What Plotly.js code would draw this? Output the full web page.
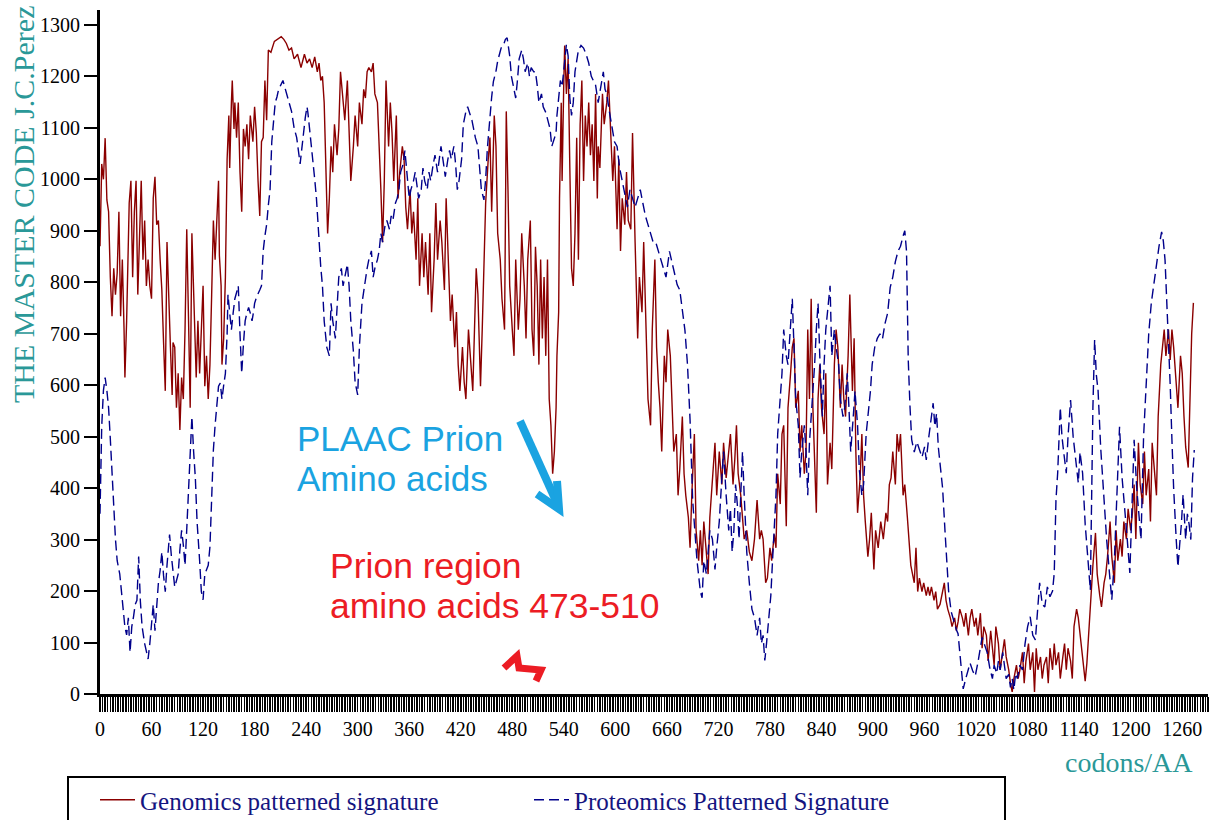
<!DOCTYPE html>
<html>
<head>
<meta charset="utf-8">
<script src="https://cdn.plot.ly/plotly-3.0.1.min.js"></script>
<style>html,body{margin:0;padding:0;background:#fff;}#chart{width:1210px;height:820px;}</style>
</head>
<body>
<div id="chart"></div>
<script>
// ---------- DATA ----------
const genomicsCodons = [0,2,4,6,8,10,12,14,16,18,20,22,24,26,28,29,31,34,36,38,40,42,44,46,48,50,52,54,56,58,60,62,64,66,68,70,72,74,76,78,80,82,84,85,87,89,91,93,95,97,99,101,103,105,107,109,111,112,114,116,118,120,122,124,126,128,130,132,134,136,138,139,141,142,144,146,148,150,151,153,154,156,157,159,161,163,165,167,169,171,173,175,178,180,182,184,186,188,190,192,194,196,199,203,207,211,214,217,220,223,226,230,234,238,241,244,247,250,253,255,257,259,261,263,265,267,269,271,273,276,278,280,283,285,288,290,292,295,297,300,302,305,307,309,311,313,316,318,320,323,325,327,329,331,333,336,338,340,342,345,347,349,352,354,356,358,361,363,365,368,370,372,375,377,379,382,384,386,389,391,393,396,398,401,403,405,408,410,413,415,417,419,422,424,426,429,431,434,436,438,440,443,445,447,449,452,454,456,459,461,463,466,468,471,473,475,477,480,482,484,487,489,491,494,496,498,501,503,505,507,509,511,513,515,517,519,521,523,525,527,529,531,532,534,535,537,538,540,541,543,545,547,549,551,553,555,557,559,561,563,565,567,569,571,573,575,577,579,580,582,585,587,590,592,594,597,599,602,604,606,608,611,613,615,618,620,623,626,628,631,633,636,638,641,643,646,648,650,652,654,657,659,661,664,666,668,671,673,675,678,680,682,685,687,689,692,694,697,699,701,703,706,708,710,713,716,718,721,724,726,729,732,734,737,739,741,743,746,748,750,753,756,759,762,765,768,770,772,775,777,780,782,785,787,789,792,794,796,799,801,804,806,808,810,813,815,817,820,822,824,826,828,830,832,834,836,838,840,843,845,847,850,852,855,857,859,862,864,866,868,871,873,876,878,880,882,885,887,889,891,894,896,898,901,903,906,909,912,915,917,919,921,923,926,928,930,932,935,937,940,942,944,946,948,950,952,954,957,959,962,964,966,968,971,973,975,978,980,983,985,987,990,992,995,997,999,1001,1004,1006,1008,1011,1013,1015,1018,1020,1022,1025,1027,1029,1032,1034,1037,1039,1041,1043,1046,1048,1051,1053,1055,1058,1060,1062,1064,1067,1069,1071,1074,1076,1078,1081,1083,1086,1088,1090,1092,1095,1097,1099,1102,1104,1106,1109,1111,1113,1116,1118,1121,1123,1125,1127,1130,1132,1134,1137,1139,1141,1144,1147,1149,1151,1153,1156,1159,1161,1164,1166,1169,1171,1173,1176,1178,1181,1183,1185,1188,1190,1192,1195,1197,1200,1202,1204,1206,1209,1211,1214,1216,1218,1221,1223,1225,1228,1230,1232,1235,1237,1239,1241,1244,1246,1248,1250,1253,1255,1258,1260,1262,1264,1267,1269,1271,1273];
const genomicsValues = [870,1030,1000,1080,960,937,810,734,827,776,818,937,734,844,708,615,725,954,997,810,937,997,776,895,997,844,920,793,844,793,768,963,1005,912,920,844,785,683,589,878,759,674,581,683,674,556,623,513,615,573,708,903,734,556,895,793,683,615,725,623,708,793,598,657,573,640,776,920,844,937,997,852,793,640,691,810,1039,1124,1022,1149,1192,1098,1149,1081,1149,1014,937,1098,1064,1107,1039,1124,1073,1141,1090,997,929,1073,1081,1192,1115,1251,1247,1268,1272,1277,1272,1264,1251,1255,1234,1243,1217,1243,1226,1234,1217,1238,1209,1226,1192,1200,1149,997,895,963,1064,1014,1107,1047,1098,1209,1149,1115,1192,1081,997,1064,1124,1064,1149,1107,1175,1158,1209,1217,1209,1226,1166,1149,1073,980,878,997,1192,1064,1149,1090,997,1124,963,1014,1064,1039,946,903,980,895,937,844,963,793,895,810,878,776,895,742,844,954,844,920,878,785,963,852,725,776,674,742,640,589,674,606,573,708,657,589,708,827,776,598,708,844,954,1039,1081,937,1124,1064,895,844,768,708,1132,980,793,708,657,844,708,768,895,793,691,844,920,708,657,869,793,640,844,691,810,657,844,573,522,428,471,556,657,742,963,1149,997,1192,1260,1166,1234,1022,827,793,895,1081,844,1107,1192,997,1124,1064,1149,1047,1107,997,1166,963,1064,1022,1166,1107,1149,1192,1115,997,1064,903,1039,861,963,912,1014,920,903,1090,878,691,810,742,878,674,573,522,708,844,674,606,556,471,657,606,708,657,539,471,505,386,437,539,428,386,343,284,386,505,318,259,318,250,335,276,233,343,420,488,386,471,407,488,420,471,505,407,454,522,428,386,343,301,318,276,259,301,377,301,318,301,216,225,284,259,310,284,428,369,505,522,326,556,623,674,691,556,589,471,522,428,471,708,573,768,556,471,352,573,640,556,505,623,407,488,437,640,708,674,556,640,573,539,657,776,589,691,471,352,420,505,386,335,267,301,352,242,318,284,335,301,352,335,407,420,471,407,505,471,505,386,407,343,301,250,233,216,284,199,225,199,216,191,208,191,208,182,199,165,174,191,216,182,165,148,131,148,123,140,165,148,131,157,114,148,165,131,148,114,157,89,131,114,64,123,89,56,131,98,47,81,106,72,47,21,4,30,56,30,47,81,21,64,98,47,81,4,89,47,72,30,56,72,21,89,47,98,56,81,30,72,98,47,89,64,30,131,165,148,114,64,25,60,120,183,250,313,233,191,169,216,233,267,335,267,216,318,259,301,267,335,301,360,318,352,407,301,488,407,369,471,386,437,335,488,420,386,539,640,674,708,657,708,649,708,674,589,556,657,623,540,480,440,560,700,760];

const proteomicsCodons = [0,1,2,4,6,8,10,12,14,16,18,20,23,25,27,29,31,33,35,37,39,41,43,45,47,49,52,54,56,58,60,62,64,66,68,70,72,74,76,78,81,83,85,87,89,91,93,95,97,99,101,103,105,107,109,111,113,114,116,118,120,122,124,126,128,130,132,134,136,138,140,142,144,146,148,149,151,153,155,157,159,161,163,165,167,169,171,173,175,177,179,180,182,184,186,188,190,192,194,196,198,200,202,204,206,208,211,213,215,217,220,223,226,229,231,233,235,237,239,241,242,244,246,248,250,252,254,257,259,261,264,267,269,271,274,276,278,281,283,286,288,290,292,295,297,300,302,305,307,309,311,313,316,318,320,323,325,327,329,332,334,337,339,341,344,346,348,350,353,355,358,360,362,365,367,369,371,374,376,378,381,383,385,388,390,393,395,397,400,402,405,407,409,412,414,416,418,421,423,426,428,430,433,435,437,440,442,444,447,449,451,454,456,458,461,463,465,467,470,472,474,477,479,481,484,486,488,491,493,495,498,500,502,505,507,509,511,514,516,519,521,524,526,529,531,532,534,536,538,541,543,545,547,549,551,553,555,557,560,563,566,569,572,574,577,580,583,586,588,590,593,596,599,602,605,608,611,614,617,620,623,626,629,632,635,638,641,644,647,650,653,656,659,663,665,667,670,672,675,678,681,684,687,690,693,695,697,699,701,703,706,708,710,713,716,718,721,724,726,729,732,734,736,738,740,742,744,746,748,750,753,756,759,762,765,768,770,772,774,776,779,781,783,785,787,789,792,794,796,799,801,804,806,808,810,813,815,817,820,822,824,826,828,830,832,834,836,838,841,843,845,848,850,852,855,857,860,862,865,867,870,872,874,877,879,882,884,887,889,892,894,897,899,902,905,908,911,914,917,920,923,926,929,932,935,937,939,941,943,945,948,951,954,957,960,962,965,968,970,972,974,976,979,981,984,986,988,991,994,997,999,1002,1005,1008,1011,1013,1016,1019,1022,1025,1027,1030,1033,1036,1039,1041,1044,1046,1048,1051,1053,1055,1058,1060,1062,1064,1066,1068,1071,1074,1077,1080,1083,1086,1089,1091,1094,1097,1100,1103,1106,1109,1111,1113,1115,1118,1120,1122,1125,1127,1130,1133,1136,1139,1141,1144,1147,1150,1153,1156,1158,1160,1162,1165,1168,1170,1172,1175,1178,1181,1184,1187,1190,1193,1196,1199,1201,1204,1207,1210,1212,1215,1218,1221,1224,1227,1230,1233,1236,1238,1240,1242,1244,1246,1248,1250,1253,1255,1257,1259,1261,1264,1266,1268,1270,1272,1274];
const proteomicsValues = [350,450,520,590,615,590,556,496,428,369,301,259,233,199,165,130,115,148,81,131,150,174,182,267,180,131,98,85,68,98,130,174,123,170,216,240,276,230,199,250,310,270,233,208,220,233,280,318,290,250,320,386,470,539,471,420,335,301,259,199,183,233,240,250,286,386,474,522,570,598,604,573,600,623,700,776,740,708,740,768,780,793,700,623,680,725,740,751,740,725,745,759,770,776,785,793,861,890,912,950,980,1073,1110,1149,1160,1175,1185,1192,1180,1166,1150,1132,1100,1081,1050,1030,1060,1098,1120,1141,1130,1098,1060,1030,1000,963,900,830,793,725,674,657,759,725,691,742,810,827,793,818,835,793,725,666,606,581,674,759,785,810,827,844,861,810,827,844,861,895,878,912,920,903,929,920,954,963,980,1014,1030,1056,997,963,980,997,1014,989,963,980,1022,997,980,1014,997,1030,1047,1014,1039,1064,1030,1005,1039,1056,1039,1064,1030,980,997,1039,1107,1132,1141,1132,1115,1098,1081,1064,1020,980,960,1000,1060,1130,1160,1190,1210,1230,1245,1255,1262,1272,1275,1240,1200,1183,1158,1192,1234,1251,1234,1209,1226,1200,1217,1209,1209,1183,1149,1166,1141,1130,1115,1098,1064,1081,1090,1124,1166,1192,1180,1230,1262,1240,1158,1124,1149,1209,1234,1251,1260,1255,1243,1226,1200,1192,1183,1149,1183,1209,1175,1166,1132,1098,1073,1064,1022,997,971,946,980,963,946,963,980,954,929,912,895,878,878,861,844,827,810,860,845,830,810,795,785,745,707,640,532,377,300,260,230,199,187,259,233,284,318,301,242,284,335,420,471,386,318,360,276,318,407,369,301,386,471,386,276,216,165,148,114,148,98,114,65,98,148,191,259,318,386,505,589,623,708,657,640,708,768,674,573,522,420,471,522,471,386,488,539,573,640,708,759,657,539,640,708,759,793,657,708,674,640,573,539,556,623,556,471,539,589,522,437,386,407,505,539,589,640,674,691,700,690,720,740,790,810,840,860,870,890,900,860,650,560,494,470,490,475,460,480,455,500,540,565,520,545,480,430,400,311,253,200,160,140,125,117,60,10,30,50,60,45,35,60,90,110,95,80,50,30,56,40,64,47,81,56,30,38,13,30,8,40,30,56,47,98,131,150,114,105,150,216,174,169,208,189,200,235,377,430,557,500,470,429,500,571,500,450,410,470,429,330,260,202,557,688,620,590,480,400,332,300,240,183,260,380,519,420,350,300,235,330,494,400,340,300,500,600,700,760,800,840,870,898,880,843,766,688,600,494,400,300,247,290,330,388,300,350,330,300,420,474];

const yTickValues = [0,100,200,300,400,500,600,700,800,900,1000,1100,1200,1300];
const seriesNames = ['Genomics patterned signature', 'Proteomics Patterned Signature'];

// ---------- LAYOUT GEOMETRY ----------
const PL = 100, PR = 1208, PT = 10, PB = 694;
const px = v => (v - PL) / (PR - PL);
const py = v => (PB - v) / (PB - PT);
const pathOf = pts => pts.map((p, i) => (i ? 'L' : 'M') + px(p[0]).toFixed(5) + ',' + py(p[1]).toFixed(5)).join(' ');

const serif = 'Liberation Serif, Times New Roman, serif';
const sans = 'Liberation Sans, Arial, sans-serif';
const teal = '#2a9898';

const traces = [
  {
    type: 'scatter', mode: 'lines', name: seriesNames[0],
    x: genomicsCodons, y: genomicsValues,
    line: {color: '#8b0000', width: 1.4}
  },
  {
    type: 'scatter', mode: 'lines', name: seriesNames[1],
    x: proteomicsCodons, y: proteomicsValues,
    line: {color: '#00008b', width: 1.4, dash: '10px,5px'}
  }
];

const layout = {
  width: 1210, height: 820,
  margin: {l: PL, r: 1210 - PR, t: PT, b: 820 - PB, autoexpand: false},
  paper_bgcolor: '#ffffff', plot_bgcolor: '#ffffff',
  showlegend: true,
  legend: {
    orientation: 'h', xref: 'paper', yref: 'paper',
    x: px(95), y: py(777), xanchor: 'left', yanchor: 'top',
    font: {family: serif, size: 25, color: '#151580'},
    bgcolor: 'rgba(0,0,0,0)', borderwidth: 0,
    entrywidth: 384, entrywidthmode: 'pixels', itemwidth: 35
  },
  xaxis: {
    range: [0, 1290], showgrid: false, zeroline: false,
    showline: true, linecolor: '#000', linewidth: 3,
    ticks: 'outside', ticklen: 15, tickwidth: 1.6, tickcolor: '#000',
    tick0: 0, dtick: 60,
    tickfont: {family: serif, size: 20, color: '#000'},
    minor: {ticks: 'outside', dtick: 3, ticklen: 15, tickwidth: 1.5, tickcolor: '#000', showgrid: false}
  },
  yaxis: {
    range: [0, 1329], showgrid: false, zeroline: false,
    showline: true, linecolor: '#000', linewidth: 3,
    ticks: 'outside', ticklen: 13, tickwidth: 2, tickcolor: '#000',
    tickmode: 'array', tickvals: yTickValues, ticktext: yTickValues.map(String),
    tickfont: {family: serif, size: 20, color: '#000'}
  },
  shapes: [
    {type: 'rect', xref: 'paper', yref: 'paper', x0: px(68), x1: px(1005), y0: py(850), y1: py(777),
     line: {color: '#000', width: 2}, fillcolor: 'rgba(0,0,0,0)'},
    {type: 'path', xref: 'paper', yref: 'paper', path: pathOf([[520,421],[557,503]]),
     line: {color: '#1aa3e1', width: 8}},
    {type: 'path', xref: 'paper', yref: 'paper', path: pathOf([[537,494],[559,509],[557,481]]),
     line: {color: '#1aa3e1', width: 8}},
    {type: 'path', xref: 'paper', yref: 'paper', path: pathOf([[504,668],[517,656],[519,668],[541,670],[536,681]]),
     line: {color: '#ec1c24', width: 7}}
  ],
  annotations: [
    {xref: 'paper', yref: 'paper', x: px(23), y: py(205), text: 'THE MASTER CODE J.C.Perez',
     textangle: -90, showarrow: false, xanchor: 'center', yanchor: 'middle',
     font: {family: serif, size: 30, color: teal}},
    {xref: 'paper', yref: 'paper', x: px(1129), y: py(762), text: 'codons/AA',
     showarrow: false, xanchor: 'center', yanchor: 'middle',
     font: {family: serif, size: 28, color: teal}},
    {xref: 'paper', yref: 'paper', x: px(295), y: py(438), text: 'PLAAC Prion',
     showarrow: false, xanchor: 'left', yanchor: 'middle',
     font: {family: sans, size: 35, color: '#1aa3e1'}},
    {xref: 'paper', yref: 'paper', x: px(295), y: py(479), text: 'Amino acids',
     showarrow: false, xanchor: 'left', yanchor: 'middle',
     font: {family: sans, size: 35, color: '#1aa3e1'}},
    {xref: 'paper', yref: 'paper', x: px(328), y: py(566), text: 'Prion region',
     showarrow: false, xanchor: 'left', yanchor: 'middle',
     font: {family: sans, size: 35.5, color: '#ec1c24'}},
    {xref: 'paper', yref: 'paper', x: px(328), y: py(606), text: 'amino acids 473-510',
     showarrow: false, xanchor: 'left', yanchor: 'middle',
     font: {family: sans, size: 35.5, color: '#ec1c24'}}
  ]
};

Plotly.newPlot('chart', traces, layout, {displayModeBar: false, staticPlot: true});
</script>
</body>
</html>
